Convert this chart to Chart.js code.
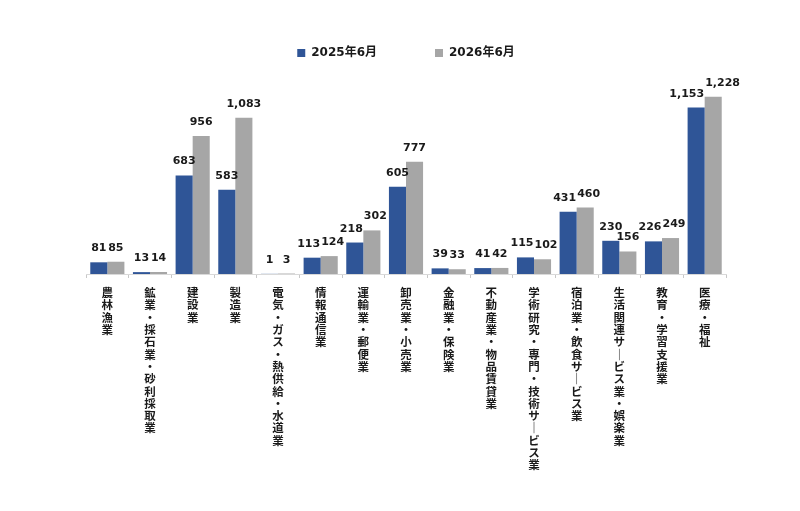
<!DOCTYPE html>
<html lang="ja">
<head>
<meta charset="utf-8">
<title>産業別</title>
<script src="https://cdn.jsdelivr.net/npm/chart.js@4.4.1/dist/chart.umd.min.js"></script>
<style>
  html, body { margin: 0; padding: 0; background: #fff; }
  #wrap { width: 800px; height: 511px; }
</style>
</head>
<body>
<div id="wrap"><canvas id="chart"></canvas></div>
<script>
// 産業分類
const categories = [
  '農林漁業', '鉱業・採石業・砂利採取業', '建設業', '製造業',
  '電気・ガス・熱供給・水道業', '情報通信業', '運輸業・郵便業', '卸売業・小売業',
  '金融業・保険業', '不動産業・物品賃貸業', '学術研究・専門・技術サービス業',
  '宿泊業・飲食サービス業', '生活関連サービス業・娯楽業', '教育・学習支援業', '医療・福祉'
];
const seriesNames = ['2025年6月', '2026年6月'];
const values2025 = [81, 13, 683, 583, 1, 113, 218, 605, 39, 41, 115, 431, 230, 226, 1153];
const values2026 = [85, 14, 956, 1083, 3, 124, 302, 777, 33, 42, 102, 460, 156, 249, 1228];

const FONT = '"DejaVu Sans", "Noto Sans CJK JP", sans-serif';

// 縦書き: 1文字ずつ改行、長音は縦棒に
const verticalLabels = categories.map(c => c.replace(/ー/g, '｜').split(''));

// 棒の上に値を表示（隣の値と重なる場合は左右にずらす）
const barValueLabels = {
  id: 'barValueLabels',
  afterDatasetsDraw(chart) {
    const ctx = chart.ctx;
    ctx.save();
    ctx.font = 'bold 11px ' + FONT;
    ctx.fillStyle = '#1a1a1a';
    ctx.textAlign = 'center';
    ctx.textBaseline = 'alphabetic';
    const left = chart.getDatasetMeta(0).data;
    const right = chart.getDatasetMeta(1).data;
    const d0 = chart.data.datasets[0].data;
    const d1 = chart.data.datasets[1].data;
    left.forEach((barA, j) => {
      const barB = right[j];
      const tA = d0[j].toLocaleString('en-US');
      const tB = d1[j].toLocaleString('en-US');
      const wA = ctx.measureText(tA).width;
      const wB = ctx.measureText(tB).width;
      let xA = barA.x, xB = barB.x;
      const yA = barA.y - 11, yB = barB.y - 11;
      const dy = Math.abs(yA - yB);
      const limit = yA > yB ? 13 : 9;
      const overlap = (xA + wA / 2) - (xB - wB / 2) + 1;
      if (dy < limit && overlap > 0) {
        xA -= overlap / 2;
        xB += overlap / 2;
      }
      ctx.fillText(tA, xA, yA);
      ctx.fillText(tB, xB, yB);
    });
    ctx.restore();
  }
};

new Chart(document.getElementById('chart'), {
  type: 'bar',
  data: {
    labels: verticalLabels,
    datasets: [
      { label: seriesNames[0], data: values2025, backgroundColor: '#2f5597' },
      { label: seriesNames[1], data: values2026, backgroundColor: '#a6a6a6' }
    ]
  },
  options: {
    responsive: true,
    maintainAspectRatio: false,
    animation: false,
    layout: { padding: { top: 37, left: 86, right: 74, bottom: 0 } },
    datasets: { bar: { categoryPercentage: 0.8, barPercentage: 1.0 } },
    plugins: {
      tooltip: { enabled: false },
      legend: {
        position: 'top',
        labels: {
          boxWidth: 8,
          boxHeight: 8,
          padding: 10,
          color: '#1a1a1a',
          font: { family: FONT, size: 12, weight: 'bold' },
          generateLabels(chart) {
            const items = Chart.defaults.plugins.legend.labels.generateLabels(chart);
            items[0].text += '\u3000\u3000\u3000\u3000';
            return items;
          }
        }
      }
    },
    scales: {
      x: {
        afterFit(scale) { scale.height = 237; },
        border: { color: '#d9d9d9', width: 1 },
        grid: { drawOnChartArea: false, drawTicks: true, tickLength: 4, color: '#c8c8c8' },
        ticks: {
          autoSkip: false,
          maxRotation: 0,
          minRotation: 0,
          padding: 10,
          color: '#1a1a1a',
          font: { family: FONT, size: 11.5, weight: 'bold', lineHeight: 1.07 }
        }
      },
      y: {
        display: false,
        min: 0,
        max: 1420
      }
    }
  },
  plugins: [barValueLabels]
});
</script>
</body>
</html>
